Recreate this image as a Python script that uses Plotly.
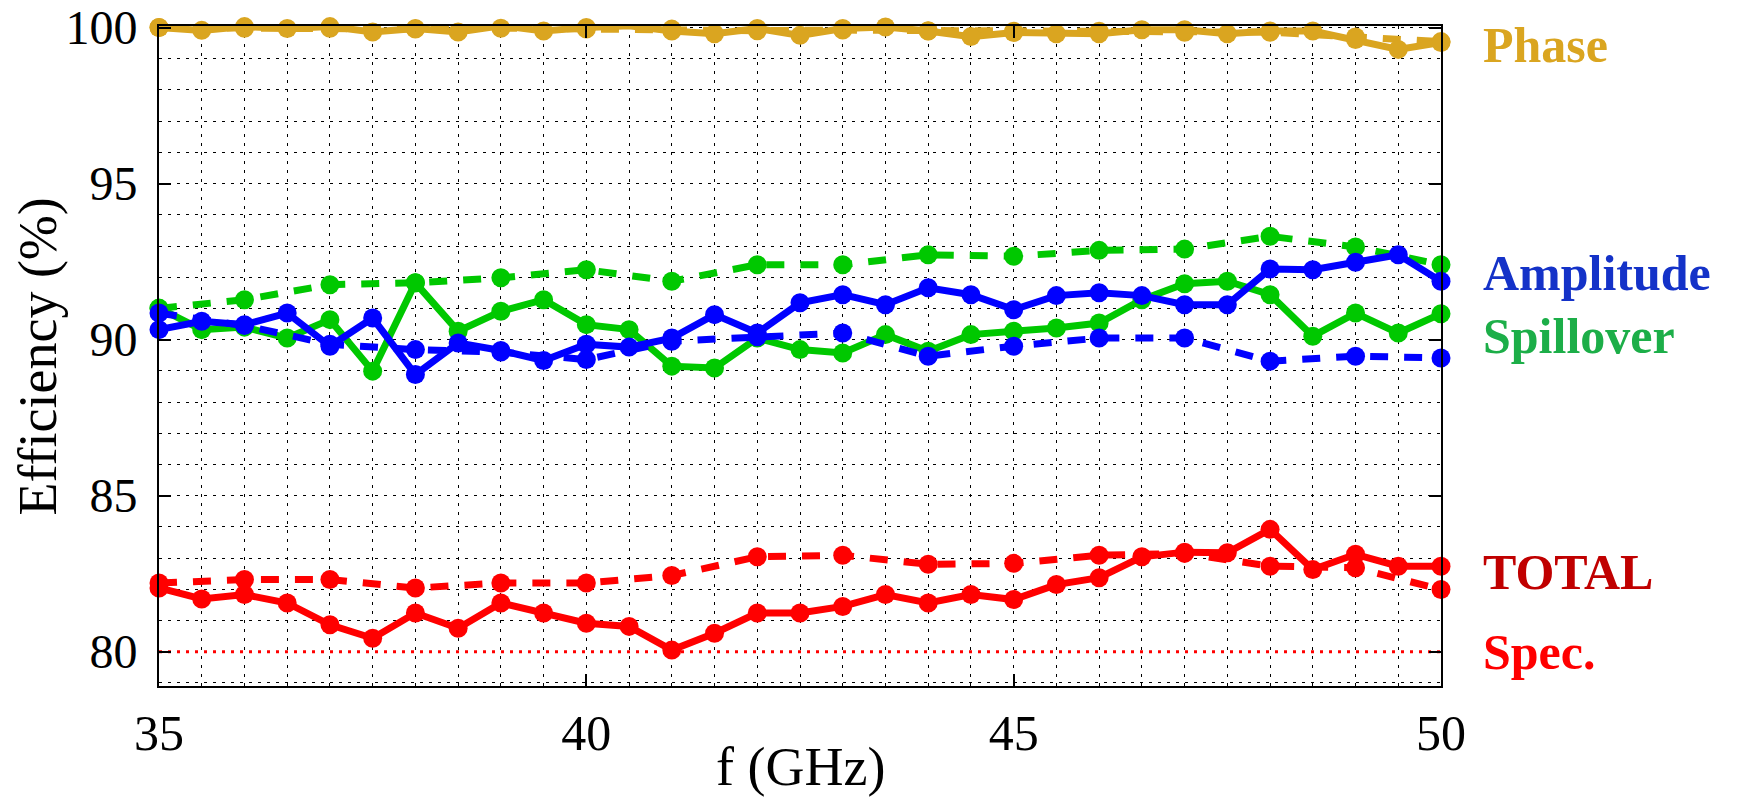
import plotly.graph_objects as go

# ---------------- data ----------------
f_half = [35.0, 35.5, 36.0, 36.5, 37.0, 37.5, 38.0, 38.5, 39.0, 39.5, 40.0,
          40.5, 41.0, 41.5, 42.0, 42.5, 43.0, 43.5, 44.0, 44.5, 45.0,
          45.5, 46.0, 46.5, 47.0, 47.5, 48.0, 48.5, 49.0, 49.5, 50.0]
f_int = [35, 36, 37, 38, 39, 40, 41, 42, 43, 44, 45, 46, 47, 48, 49, 50]

phase_solid = [100.0, 99.91, 100.03, 99.97, 100.03, 99.86, 99.97, 99.86, 100.06, 99.89, 100.0,
               100.06, 99.89, 99.80, 99.97, 99.75, 99.97, 100.02, 99.89, 99.71, 99.84,
               99.80, 99.80, 99.93, 99.93, 99.80, 99.89, 99.89, 99.62, 99.30, 99.52]
phase_dash = [100.0, 99.98, 99.98, 99.95, 99.98, 99.95, 99.95, 99.90, 99.92, 99.90, 99.88,
              99.88, 99.85, 99.85, 99.70, 99.55]

ampl_solid = [90.32, 90.59, 90.48, 90.85, 89.79, 90.69, 88.88, 89.89, 89.65, 89.33, 89.85,
              89.76, 90.05, 90.80, 90.21, 91.18, 91.44, 91.12, 91.66, 91.44, 90.96,
              91.41, 91.50, 91.41, 91.12, 91.12, 92.26, 92.24, 92.48, 92.72, 91.87]
ampl_dash = [90.85, 90.45, 89.85, 89.68, 89.60, 89.36, 89.95, 90.09, 90.21, 89.47, 89.79,
             90.05, 90.05, 89.31, 89.47, 89.41]

spill_solid = [91.01, 90.32, 90.40, 90.05, 90.64, 88.99, 91.82, 90.27, 90.91, 91.28, 90.48,
               90.32, 89.15, 89.09, 90.05, 89.68, 89.57, 90.16, 89.63, 90.16, 90.27,
               90.37, 90.53, 91.28, 91.79, 91.87, 91.44, 90.11, 90.85, 90.21, 90.83]
spill_dash = [91.00, 91.28, 91.76, 91.82, 91.98, 92.24, 91.87, 92.40, 92.40, 92.72, 92.67,
              92.86, 92.90, 93.31, 92.97, 92.40]

total_solid = [82.04, 81.69, 81.83, 81.56, 80.86, 80.43, 81.24, 80.75, 81.56, 81.24, 80.91,
               80.81, 80.05, 80.59, 81.24, 81.24, 81.45, 81.83, 81.56, 81.83, 81.67,
               82.15, 82.37, 83.04, 83.19, 83.17, 83.92, 82.63, 83.12, 82.74, 82.74]
total_dash = [82.20, 82.31, 82.31, 82.04, 82.20, 82.20, 82.44, 83.04, 83.09, 82.80, 82.83,
              83.09, 83.15, 82.74, 82.69, 81.99]

spec_f = [35, 50]
spec_val = [80, 80]

x_ticks = [35, 40, 45, 50]
y_ticks = [80, 85, 90, 95, 100]

labels = ["Phase", "Amplitude", "Spillover", "TOTAL", "Spec."]
label_y = [99.45, 92.15, 90.12, 82.55, 80.0]
label_colors = ["#DAA520", "#1432C8", "#1CAE48", "#C00000", "#FF0000"]

# ---------------- figure ----------------
GOLD = "#DAA520"
BLUE = "#0000FF"
GREEN = "#00C800"
RED = "#FF0000"
LW = 7
MS = 19
DASH = "18px,16px"

fig = go.Figure()

def add(x, y, color, dash):
    fig.add_trace(go.Scatter(
        x=x, y=y, mode="lines+markers",
        line=dict(color=color, width=LW, dash=dash),
        marker=dict(color=color, size=MS, symbol="circle", line=dict(width=0)),
        cliponaxis=False, showlegend=False, hoverinfo="skip"))

fig.add_trace(go.Scatter(x=spec_f, y=spec_val, mode="lines",
                         line=dict(color=RED, width=3, dash="3px,6px"),
                         showlegend=False, hoverinfo="skip"))

add(f_int, phase_dash, GOLD, DASH)
add(f_half, phase_solid, GOLD, "solid")
add(f_int, spill_dash, GREEN, DASH)
add(f_half, spill_solid, GREEN, "solid")
add(f_int, ampl_dash, BLUE, DASH)
add(f_half, ampl_solid, BLUE, "solid")
add(f_int, total_dash, RED, DASH)
add(f_half, total_solid, RED, "solid")

FONT = "Liberation Serif"
grid_common = dict(showgrid=True, gridcolor="black", gridwidth=1.3, griddash="3px,6px")

fig.update_xaxes(
    range=[35, 50], tickvals=x_ticks, ticktext=[str(v) for v in x_ticks],
    ticks="inside", ticklen=12, tickwidth=2, tickcolor="black",
    showline=True, linecolor="black", linewidth=2, mirror="ticks",
    zeroline=False, automargin=False,
    tickfont=dict(family=FONT, size=50, color="black"),
    ticklabelstandoff=2, ticklabeloverflow="allow",
    minor=dict(dtick=0.5, tick0=35, ticks="", **grid_common),
    **grid_common,
)
fig.update_yaxes(
    range=[78.9, 100.05], tickvals=y_ticks, ticktext=[str(v) for v in y_ticks],
    ticks="inside", ticklen=12, tickwidth=2, tickcolor="black",
    showline=True, linecolor="black", linewidth=2, mirror="ticks",
    zeroline=False, automargin=False,
    tickfont=dict(family=FONT, size=48, color="black"),
    ticklabelstandoff=10, ticklabeloverflow="allow",
    minor=dict(dtick=1, tick0=80, ticks="", **grid_common),
    **grid_common,
)

annotations = []
for txt, yv, col in zip(labels, label_y, label_colors):
    annotations.append(dict(
        text="<b>%s</b>" % txt, x=1.031, xref="paper", y=yv, yref="y",
        xanchor="left", yanchor="middle", showarrow=False,
        font=dict(family=FONT, size=50, color=col)))

annotations.append(dict(text="Efficiency (%)", x=-0.094, xref="paper", y=0.5, yref="paper",
                        textangle=-90, xanchor="center", yanchor="middle", showarrow=False,
                        font=dict(family=FONT, size=54, color="black")))
annotations.append(dict(text="f (GHz)", x=0.5, xref="paper", y=-0.123, yref="paper",
                        xanchor="center", yanchor="middle", showarrow=False,
                        font=dict(family=FONT, size=54, color="black")))

fig.update_layout(
    width=1743, height=809, autosize=False,
    margin=dict(l=159, r=302, t=26, b=123, pad=0, autoexpand=False),
    paper_bgcolor="white", plot_bgcolor="white",
    annotations=annotations,
    showlegend=False,
)

fig.write_html("out.html", config={"displayModeBar": False})
